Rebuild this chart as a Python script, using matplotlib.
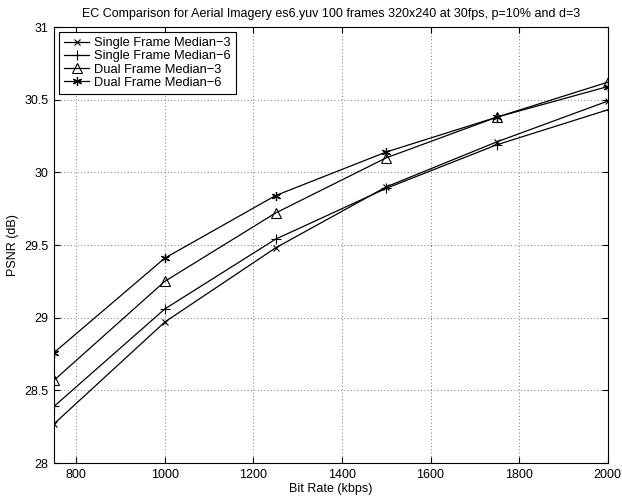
import matplotlib
matplotlib.use("Agg")
import matplotlib.pyplot as plt

plt.rcParams['font.family'] = ['Liberation Sans', 'DejaVu Sans']

# Bit rates (kbps) and PSNR values
bit_rates = [750, 1000, 1250, 1500, 1750, 2000]
single_med3 = [28.27, 28.97, 29.48, 29.90, 30.21, 30.49]
single_med6 = [28.39, 29.06, 29.54, 29.89, 30.19, 30.43]
dual_med3 = [28.57, 29.25, 29.72, 30.10, 30.38, 30.62]
dual_med6 = [28.76, 29.41, 29.84, 30.14, 30.38, 30.59]

fig = plt.figure(figsize=(6.22, 5.0), dpi=100)
ax = fig.add_axes([0.087, 0.074, 0.890, 0.872])

ax.plot(bit_rates, single_med3, color='black', lw=0.9, marker='x', ms=4.5, mew=0.8, label='Single Frame Median\u22123')
ax.plot(bit_rates, single_med6, color='black', lw=0.9, marker='+', ms=6.5, mew=0.8, label='Single Frame Median\u22126')
ax.plot(bit_rates, dual_med3, color='black', lw=0.9, marker='^', ms=6.5, mew=0.8, mfc='none', label='Dual Frame Median\u22123')
ax.plot(bit_rates, dual_med6, color='black', lw=0.9, marker=(6, 2, 0), ms=6.5, mew=0.9, label='Dual Frame Median\u22126')

ax.set_xlim(750, 2000)
ax.set_ylim(28, 31)
ax.set_xticks([800, 1000, 1200, 1400, 1600, 1800, 2000])
ax.set_yticks([28, 28.5, 29, 29.5, 30, 30.5, 31])
ax.set_yticklabels(['28', '28.5', '29', '29.5', '30', '30.5', '31'])
ax.grid(True, linestyle=(0, (1, 3)), color='black', lw=0.6, alpha=0.7)
ax.tick_params(direction='in', labelsize=9, top=True, right=True, length=4, pad=4)
for s in ax.spines.values():
    s.set_linewidth(0.8)

ax.set_xlabel('Bit Rate (kbps)', fontsize=9, labelpad=2)
ax.set_ylabel('PSNR (dB)', fontsize=9, labelpad=4)
ax.set_title('EC Comparison for Aerial Imagery es6.yuv 100 frames 320x240 at 30fps, p=10% and d=3', fontsize=9, pad=7)

leg = ax.legend(loc='upper left', fontsize=9.3, frameon=True, fancybox=False, borderaxespad=0.4,
                handlelength=1.9, handletextpad=0.4, labelspacing=0.08, borderpad=0.4)
leg.get_frame().set_edgecolor('black')
leg.get_frame().set_linewidth(0.8)
leg.get_frame().set_alpha(1)

fig.savefig('out.png', dpi=100)
